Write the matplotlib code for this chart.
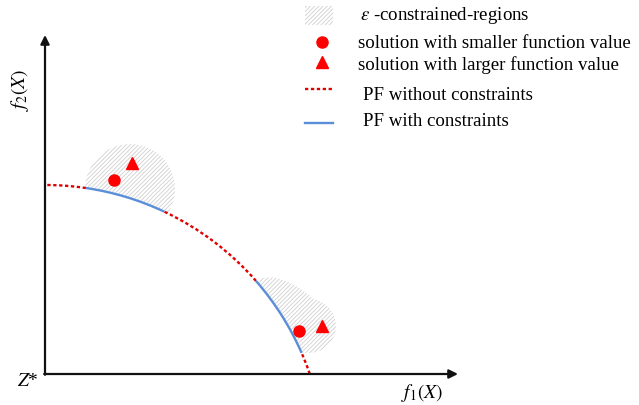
import matplotlib
matplotlib.use("Agg")
import matplotlib.pyplot as plt
from matplotlib.patches import Arc, Circle, Ellipse, Rectangle
from matplotlib.lines import Line2D

plt.rcParams['font.family'] = ['Liberation Serif', 'DejaVu Serif']
plt.rcParams['mathtext.fontset'] = 'stix'
plt.rcParams['hatch.linewidth'] = 0.6

# ---- data (conceptual diagram) ----
pf_center = (0.0, -0.91)
pf_radius = 2.80
unconstrained_arcs = [(81.6, 90.0), (41.1, 64.8), (19.0, 23.6)]   # degrees
constrained_arcs = [(64.8, 81.6), (23.6, 41.1)]
smaller_x = [0.69, 2.54]
smaller_y = [1.94, 0.43]
larger_x = [0.87, 2.77]
larger_y = [2.11, 0.48]
region_circles = [((0.85, 1.85), 0.45), ((2.64, 0.48), 0.27)]
region_ellipses = [((2.47, 0.63), 0.92, 0.46, -38.0)]
x_axis_end = 4.13
y_axis_end = 3.39
legend_labels = [r"$\varepsilon$ -constrained-regions",
                 "solution with smaller function value",
                 "solution with larger function value",
                 "PF without constraints",
                 "PF with constraints"]

RED = '#e00000'
BLUE = '#5b8ed8'
HATCH_C = '#cfcfcf'
HATCH = '////////'

fig = plt.figure(figsize=(6.39, 4.06), dpi=100)
ax = fig.add_axes([0, 0, 1, 1])
ax.set_xlim(-0.45, 5.94)
ax.set_ylim(-0.31, 3.75)
ax.axis('off')

# epsilon-constrained regions
for (c, r) in region_circles:
    ax.add_patch(Circle(c, r, facecolor='white', edgecolor=HATCH_C, lw=0,
                        hatch=HATCH, zorder=1))
for (c, w, h, ang) in region_ellipses:
    ax.add_patch(Ellipse(c, w, h, angle=ang, facecolor='white', edgecolor=HATCH_C,
                         lw=0, hatch=HATCH, zorder=1))
# area dominated by the front is empty
ax.add_patch(Circle(pf_center, pf_radius, facecolor='white', edgecolor='none', zorder=2))

# Pareto fronts
for (t1, t2) in unconstrained_arcs:
    ax.add_patch(Arc(pf_center, 2 * pf_radius, 2 * pf_radius, theta1=t1, theta2=t2,
                     color=RED, lw=1.7, linestyle=(0, (1.4, 1.1)), zorder=3))
for (t1, t2) in constrained_arcs:
    ax.add_patch(Arc(pf_center, 2 * pf_radius, 2 * pf_radius, theta1=t1, theta2=t2,
                     color=BLUE, lw=1.7, zorder=3))

# solutions
ax.plot(smaller_x, smaller_y, 'o', color='red', ms=8, zorder=5)
ax.plot(larger_x, larger_y, '^', color='red', ms=8.5, zorder=5)

# axes arrows
ap = dict(arrowstyle='-|>', mutation_scale=13, lw=1.6, color='#111111',
          shrinkA=0, shrinkB=0)
ax.annotate('', xy=(x_axis_end, 0), xytext=(-0.008, 0), arrowprops=ap, zorder=6)
ax.annotate('', xy=(0, y_axis_end), xytext=(0, -0.008), arrowprops=ap, zorder=6)

ax.text(3.77, -0.18, r"$f_1(X)$", fontsize=14, ha='center', va='center', zorder=7)
ax.text(-0.25, 2.85, r"$f_2(X)$", fontsize=14, ha='center', va='center',
        rotation=90, zorder=7)
ax.text(-0.17, -0.07, r"$Z$*", fontsize=14, ha='center', va='center', zorder=7)

# legend (drawn in pixel space)
lax = fig.add_axes([0, 0, 1, 1])
lax.set_xlim(0, 639)
lax.set_ylim(406, 0)
lax.axis('off')
lax.add_patch(Rectangle((305, 7), 28, 19, facecolor='white', edgecolor=HATCH_C, lw=0,
                        hatch=HATCH))
lax.plot([322], [43], 'o', color='red', ms=8)
lax.plot([322], [63], '^', color='red', ms=8.5)
lax.add_line(Line2D([305, 333], [90, 90], color=RED, lw=1.7, linestyle=(0, (1.4, 1.1))))
lax.add_line(Line2D([305, 333], [124, 124], color=BLUE, lw=1.7))
fs = 13.6
lax.text(360, 16, legend_labels[0], fontsize=fs, va='center', ha='left')
lax.text(358, 43, legend_labels[1], fontsize=fs, va='center', ha='left')
lax.text(358, 65, legend_labels[2], fontsize=fs, va='center', ha='left')
lax.text(363, 95, legend_labels[3], fontsize=fs, va='center', ha='left')
lax.text(363, 121, legend_labels[4], fontsize=fs, va='center', ha='left')

fig.savefig('out.png', dpi=100)
